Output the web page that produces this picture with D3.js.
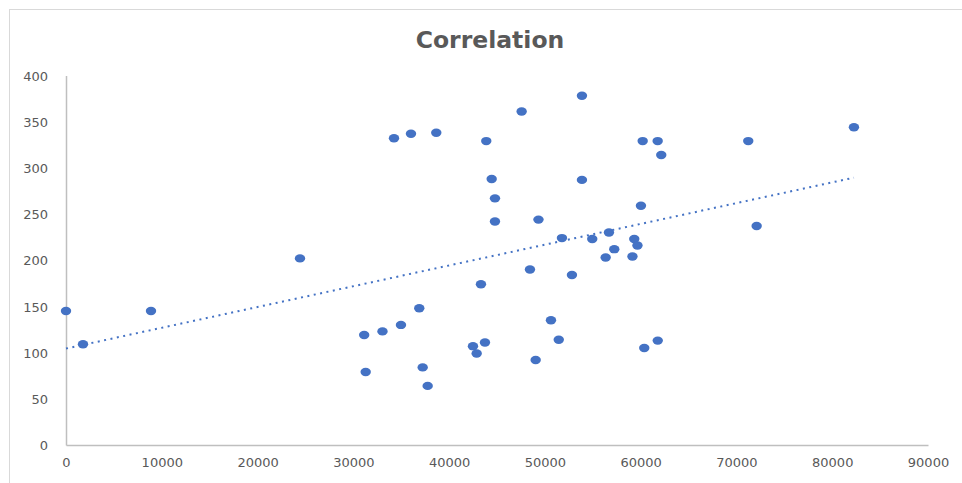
<!DOCTYPE html>
<html>
<head>
<meta charset="utf-8">
<script src="https://cdn.jsdelivr.net/npm/d3@7"></script>
<style>
  body { margin: 0; background: #fff; }
  .tick text { font-family: "DejaVu Sans", sans-serif; font-size: 13px; fill: #595959; }
</style>
</head>
<body>
<div id="chart"></div>
<script>
// Values
let xValues = [0, 1775, 8874, 24430, 34245, 36019, 38660, 43880, 47574, 44444,
    44788, 44788, 49330, 53870, 60210, 61775, 62150, 53870, 60030, 71232,
    82267, 72110, 48442, 43326, 36885, 34974, 33043, 50635, 43744, 51782,
    54946, 56689, 59331, 59665, 57243, 56345, 59143, 52826, 31132, 31289,
    37240, 37761, 42491, 42877, 49037, 51448, 60375, 61784];
let yValues = [145, 109, 145, 202, 332, 337, 338, 329, 361, 288,
    267, 242, 244, 378, 329, 329, 314, 287, 259, 329,
    344, 237, 190, 174, 148, 130, 123, 135, 111, 224,
    223, 230, 223, 216, 212, 203, 204, 184, 119, 79,
    84, 64, 107, 99, 92, 114, 105, 113];
let xTicks = [0, 10000, 20000, 30000, 40000, 50000, 60000, 70000, 80000, 90000];
let yTicks = [0, 50, 100, 150, 200, 250, 300, 350, 400];

let svgWidth = 962;
let svgHeight = 483;

let svg = d3.select("#chart")
    .append("svg")
    .attr("width", svgWidth)
    .attr("height", svgHeight);

// chart frame
svg.append("rect")
    .attr("x", 9.5)
    .attr("y", 9.5)
    .attr("width", 1000)
    .attr("height", 1000)
    .attr("fill", "none")
    .attr("stroke", "#d9d9d9");

// title
svg.append("text")
    .attr("x", 490)
    .attr("y", 48)
    .attr("text-anchor", "middle")
    .attr("font-family", "DejaVu Sans, sans-serif")
    .attr("font-weight", "bold")
    .attr("font-size", "23.5px")
    .attr("fill", "#595959")
    .text("Correlation");

let xScale = d3.scaleLinear().domain([0, 90000]).range([66, 928]);
let yScale = d3.scaleLinear().domain([0, 400]).range([445, 75.5]);

let xAxis = d3.axisBottom(xScale).tickValues(xTicks).tickFormat(d3.format("d"))
    .tickSize(0).tickPadding(13);
let yAxis = d3.axisLeft(yScale).tickValues(yTicks).tickFormat(d3.format("d"))
    .tickSize(0).tickPadding(18);

let xg = svg.append("g").attr("transform", "translate(0,445)").call(xAxis);
let yg = svg.append("g").attr("transform", "translate(66,0)").call(yAxis);
xg.select(".domain").attr("stroke", "#bfbfbf").attr("stroke-width", 1.5);
yg.select(".domain").attr("stroke", "#bfbfbf").attr("stroke-width", 1.5);
yg.selectAll(".tick text").attr("dy", "0.35em");

// points
let points = xValues.map((x, i) => ({ x: x, y: yValues[i] }));

// linear trendline (least squares)
let mx = d3.mean(points, d => d.x);
let my = d3.mean(points, d => d.y);
let slope = d3.sum(points, d => (d.x - mx) * (d.y - my)) / d3.sum(points, d => (d.x - mx) * (d.x - mx));
let intercept = my - slope * mx;
let xMax = d3.max(points, d => d.x);

svg.append("line")
    .attr("x1", xScale(0))
    .attr("y1", yScale(intercept))
    .attr("x2", xScale(xMax))
    .attr("y2", yScale(intercept + slope * xMax))
    .attr("stroke", "#4472c4")
    .attr("stroke-width", 2)
    .attr("stroke-dasharray", "2,4.5");

svg.append("g")
    .selectAll("ellipse")
    .data(points)
    .enter()
    .append("ellipse")
    .attr("cx", d => xScale(d.x))
    .attr("cy", d => yScale(d.y))
    .attr("rx", 5.2)
    .attr("ry", 4.2)
    .attr("fill", "#4472c4");
</script>
</body>
</html>
